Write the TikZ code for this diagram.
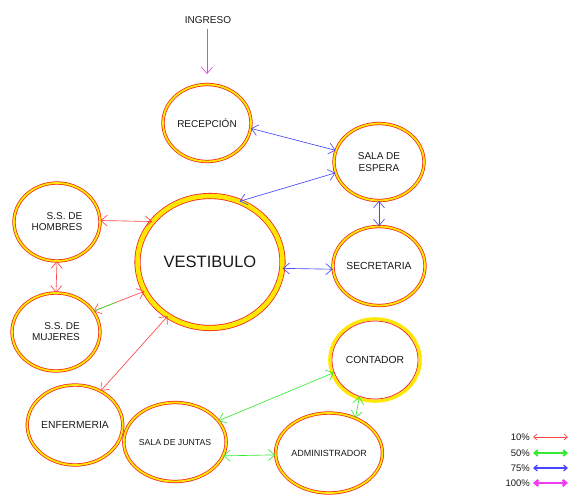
\documentclass[tikz,border=0pt]{standalone}
\usepackage{fontspec}
\setmainfont{Liberation Sans}
\usetikzlibrary{shapes.geometric,arrows.meta,calc}
\definecolor{ringred}{RGB}{240,40,30}
\definecolor{ringyel}{RGB}{255,232,0}
\definecolor{cred}{RGB}{255,70,70}
\definecolor{cgreen}{RGB}{50,235,50}
\definecolor{cblue}{RGB}{70,70,255}
\definecolor{cmag}{RGB}{240,60,240}
\begin{document}
\begin{tikzpicture}[x=1pt,y=-1pt,
  room/.style={ellipse, draw=ringred, double=ringyel, double distance=1.8pt,
    line width=0.75pt, inner sep=0pt, align=center, text=black!90,
    font=\fontsize{10}{12}\selectfont},
  bigroom/.style={room, double distance=4.5pt, line width=0.8pt},
  lbl/.style={inner sep=0pt, text=black!90, font=\fontsize{9.5}{11}\selectfont},
  lnk/.style={line width=0.65pt, {Straight Barb[length=6.5pt,width=11pt]}-{Straight Barb[length=6.5pt,width=11pt]}},
  lgd/.style={{Straight Barb[length=3.5pt,width=6pt]}-{Straight Barb[length=3.5pt,width=6pt]}},
]
\useasboundingbox (0,0) rectangle (572,498);

% rooms
\node[room, minimum width=88pt, minimum height=77pt] (rec) at (207,123) {RECEPCIÓN};
\node[room, minimum width=90pt, minimum height=77pt] (sala) at (379,162) {SALA DE\\ESPERA};
\node[bigroom, minimum width=145pt, minimum height=132pt,
      font=\fontsize{16.5}{18}\selectfont] (vest) at (210,262) {VESTIBULO};
\node[room, minimum width=86pt, minimum height=78pt, align=right,
      font=\fontsize{10}{11}\selectfont] (homb) at (57,222) {S.S. DE\\HOMBRES};
\node[room, minimum width=88pt, minimum height=78pt, align=right,
      font=\fontsize{10}{11}\selectfont] (muj) at (56,332) {S.S. DE\\MUJERES};
\node[room, minimum width=89pt, minimum height=80pt,
      font=\fontsize{10.3}{12}\selectfont] (enf) at (75,425) {ENFERMERIA};
\node[room, minimum width=89pt, minimum height=79pt,
      font=\fontsize{10.3}{12}\selectfont] (secre) at (379,266) {SECRETARIA};
\draw[ringyel, line width=3.2pt] (375,360) ellipse [x radius=45.2, y radius=41.2];
\node[ellipse, draw=ringred, line width=0.75pt, inner sep=0pt, text=black!90,
      minimum width=86pt, minimum height=78pt,
      font=\fontsize{10.3}{12}\selectfont] (cont) at (375,360) {CONTADOR};
\node[room, minimum width=88pt, minimum height=79pt,
      font=\fontsize{8.7}{10}\selectfont] (junt) at (175,442) {SALA DE JUNTAS};
\node[room, minimum width=90pt, minimum height=80pt,
      font=\fontsize{9}{10}\selectfont] (adm) at (329,453) {ADMINISTRADOR};

% entrance
\node[lbl, font=\fontsize{10}{12}\selectfont] (ing) at (208,20) {INGRESO};
\draw[cmag, line width=0.65pt, -{Straight Barb[length=6.5pt,width=11pt]},
      shorten <=5pt, shorten >=10pt] (ing.south -| rec.north) -- (rec.north);

% blue links
\draw[lnk, cblue] (rec.-7) -- (sala.165);
\draw[lnk, cblue] (vest.64) -- (sala.194);
\draw[lnk, cblue] (sala.south) -- (secre.north);
\draw[lnk, cblue] (vest.-5.5) -- (secre.184);

% red links
\draw[lnk, cred] (homb.2) -- (vest.145);
\draw[lnk, cred] (homb.south) -- (muj.north);
\draw[lnk, cred] (muj.29) -- (vest.204);
\draw[cgreen, line width=0.65pt] (muj.29) -- ($(muj.29)!0.45!(vest.204)$);
\draw[lnk, cred] (enf.53) -- (vest.232.5);

% green links
\draw[lnk, cgreen] (junt.26) -- (cont.197.7);
\draw[lnk, cgreen] (junt.-16) -- (adm.182.5);
\draw[lnk, cgreen] (cont.247.5) -- (adm.53.4);

% legend
\node[lbl, anchor=east] (l1) at (530,437) {10\%};
\node[lbl, anchor=east] (l2) at (530,453) {50\%};
\node[lbl, anchor=east] (l3) at (530,468) {75\%};
\node[lbl, anchor=east] (l4) at (530,483) {100\%};
\coordinate (e1) at (568,437);
\coordinate (e2) at (568,453);
\coordinate (e3) at (568,468);
\coordinate (e4) at (568,483);
\draw[lgd, cred, line width=0.7pt] ([xshift=3pt]l1.east) -- (e1);
\draw[lgd, cgreen, line width=1.8pt] ([xshift=3pt]l2.east) -- (e2);
\draw[lgd, cblue, line width=1.2pt] ([xshift=3pt]l3.east) -- (e3);
\draw[lgd, cmag, line width=2.4pt] ([xshift=3pt]l4.east) -- (e4);
\end{tikzpicture}
\end{document}
